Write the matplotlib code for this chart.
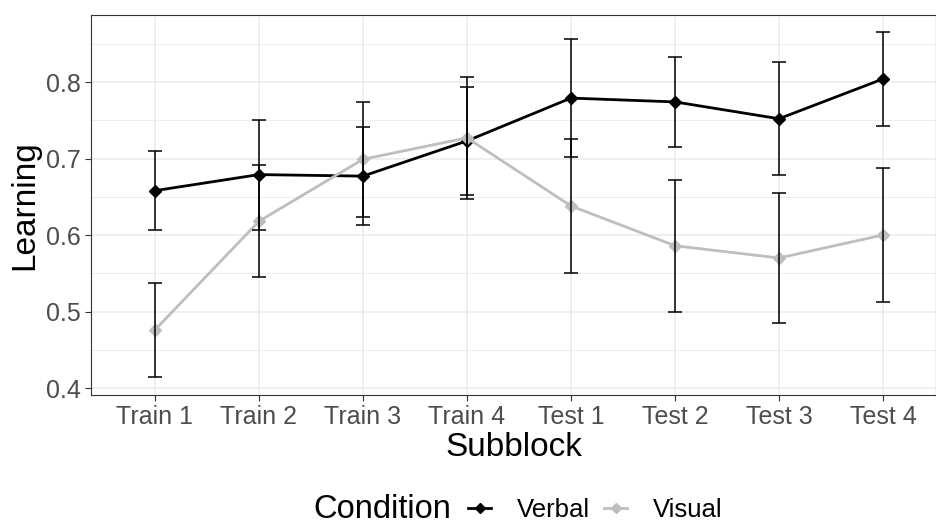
import matplotlib.pyplot as plt
from matplotlib.lines import Line2D
from matplotlib.ticker import MultipleLocator

plt.rcParams['font.family'] = ['Liberation Sans', 'DejaVu Sans']

subblocks = ['Train 1', 'Train 2', 'Train 3', 'Train 4',
             'Test 1', 'Test 2', 'Test 3', 'Test 4']
verbal_mean = [0.658, 0.679, 0.677, 0.723, 0.779, 0.774, 0.752, 0.804]
verbal_err = [0.052, 0.072, 0.064, 0.071, 0.077, 0.059, 0.074, 0.062]
visual_mean = [0.476, 0.618, 0.699, 0.727, 0.638, 0.586, 0.570, 0.600]
visual_err = [0.061, 0.073, 0.075, 0.080, 0.088, 0.086, 0.085, 0.088]
conditions = ['Verbal', 'Visual']
colors = ['black', '#BEBEBE']

fig = plt.figure(figsize=(9.36, 5.24), dpi=100)
ax = fig.add_axes([91 / 936, (524 - 395) / 524, 845 / 936, 380 / 524])

x = list(range(1, len(subblocks) + 1))
for means, errs, col in [(verbal_mean, verbal_err, colors[0]),
                         (visual_mean, visual_err, colors[1])]:
    ax.plot(x, means, color=col, lw=2, marker='D', ms=6, zorder=3)
for means, errs in [(verbal_mean, verbal_err), (visual_mean, visual_err)]:
    ax.errorbar(x, means, yerr=errs, fmt='none', ecolor='black',
                elinewidth=1.1, capsize=5, capthick=1.1, zorder=4)

ax.set_xlim(0.385, 8.51)
ax.set_ylim(0.3909, 0.8876)
ax.set_xticks(x)
ax.set_xticklabels(subblocks)
ax.yaxis.set_major_locator(MultipleLocator(0.1))
ax.yaxis.set_minor_locator(MultipleLocator(0.05))
ax.grid(True, which='major', color='#EBEBEB', lw=1.1)
ax.grid(True, which='minor', axis='y', color='#EBEBEB', lw=0.6)
ax.set_axisbelow(True)
ax.tick_params(axis='both', which='major', labelsize=18, colors='#333333',
               labelcolor='#4D4D4D', length=4, width=0.8)
ax.tick_params(axis='y', which='minor', length=0)
for s in ax.spines.values():
    s.set_color('#333333')
    s.set_linewidth(0.8)

ax.set_xlabel('Subblock', fontsize=24, labelpad=2)
ax.set_ylabel('Learning', fontsize=24, labelpad=4)

fig.text(313 / 936, 14 / 524, 'Condition', fontsize=23.5, va='center', ha='left')
handles = [Line2D([0], [0], color=c, lw=2, marker='D', ms=5) for c in colors]
fig.legend(handles, conditions, loc='center left',
           bbox_to_anchor=(468 / 936, 14 / 524), ncol=2, frameon=False,
           fontsize=18.5, handlelength=0.9, handletextpad=1.0,
           columnspacing=0.55, borderpad=0, borderaxespad=0)

fig.savefig('out.png', dpi=100)
